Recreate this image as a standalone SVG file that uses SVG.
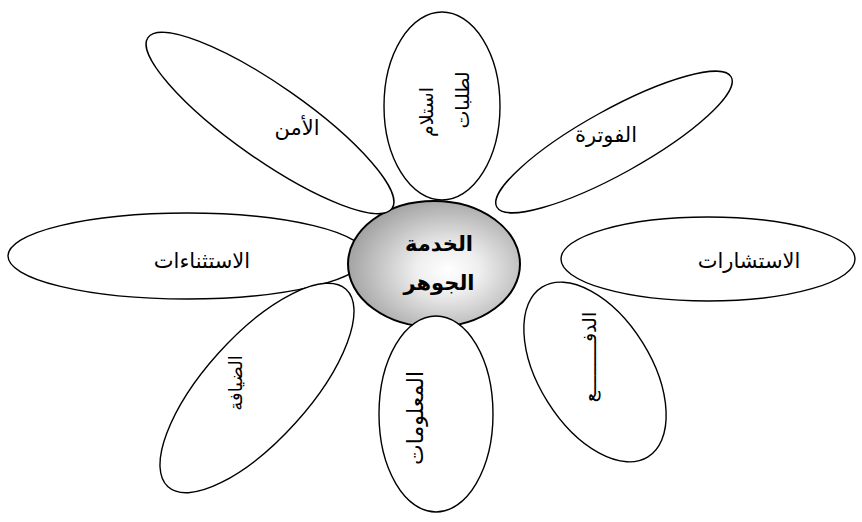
<svg xmlns="http://www.w3.org/2000/svg" width="862" height="522" viewBox="0 0 862 522">
  <defs>
    <radialGradient id="core" cx="0.58" cy="0.55" r="0.62">
      <stop offset="0" stop-color="#ffffff"/>
      <stop offset="0.3" stop-color="#eeeeee"/>
      <stop offset="1" stop-color="#9c9c9c"/>
    </radialGradient>
  </defs>
  <style>
    .petal { fill: #ffffff; stroke: #000000; stroke-width: 1.4; }
    .core { fill: url(#core); stroke: #000000; stroke-width: 2; }
    .lbl { font-family: "Liberation Sans", "DejaVu Sans", Arial, sans-serif; font-size: 21px; fill: #000000; text-anchor: middle; }
    .lblv { font-family: "Liberation Sans", "DejaVu Sans", Arial, sans-serif; font-size: 19px; fill: #000000; text-anchor: middle; }
    .core-lbl { font-family: "Liberation Sans", "DejaVu Sans", Arial, sans-serif; font-size: 21px; font-weight: bold; fill: #000000; text-anchor: middle; }
  </style>
  <rect width="862" height="522" fill="#ffffff"/>
  <g id="connectors"></g>
  <g id="petal-exceptions">
    <ellipse class="petal" cx="187" cy="256" rx="179" ry="43"/>
    <text class="lbl" x="202" y="268" direction="rtl">الاستثناءات</text>
  </g>
  <g id="core-node">
    <ellipse class="core" cx="434" cy="264" rx="86" ry="63"/>
    <text class="core-lbl" x="439" y="251" direction="rtl">الخدمة</text>
    <text class="core-lbl" x="439" y="290" direction="rtl">الجوهر</text>
  </g>
  <g id="petal-orders">
    <ellipse class="petal" cx="442" cy="106" rx="58" ry="94"/>
    <g transform="translate(433,112) rotate(-90)">
      <text class="lblv" x="0" y="0" direction="rtl">استلام</text>
    </g>
    <g transform="translate(469,100) rotate(-90)">
      <text class="lblv" x="0" y="0" direction="rtl">لطلبات</text>
    </g>
  </g>
  <g id="petal-security">
    <ellipse class="petal" cx="270" cy="123" rx="149" ry="37" transform="rotate(35 270 123)"/>
    <text class="lbl" x="297" y="135" direction="rtl">الأمن</text>
  </g>
  <g id="petal-billing">
    <ellipse class="petal" cx="614" cy="142" rx="134" ry="32" transform="rotate(-29 614 142)"/>
    <text class="lbl" x="606" y="142" direction="rtl">الفوترة</text>
  </g>
  <g id="petal-consulting">
    <ellipse class="petal" cx="708" cy="259" rx="147" ry="42"/>
    <text class="lbl" x="749" y="268" direction="rtl">الاستشارات</text>
  </g>
  <g id="petal-hospitality">
    <ellipse class="petal" cx="257" cy="388" rx="133" ry="52" transform="rotate(-48 257 388)"/>
    <g transform="translate(242,383) rotate(-90)">
      <text class="lblv" x="0" y="0" direction="rtl" style="font-size:18px">الضيافة</text>
    </g>
  </g>
  <g id="petal-information">
    <ellipse class="petal" cx="436" cy="414" rx="57" ry="98"/>
    <g transform="translate(423,418) rotate(-90)">
      <text class="lblv" x="0" y="0" direction="rtl" style="font-size:22px">المعلومات</text>
    </g>
  </g>
  <g id="petal-payment">
    <ellipse class="petal" cx="595" cy="372" rx="100" ry="56" transform="rotate(58 595 372)"/>
    <g transform="translate(596,357) rotate(-90)">
      <text class="lblv" x="0" y="0" direction="rtl">الدفـــــــــع</text>
    </g>
  </g>
</svg>
